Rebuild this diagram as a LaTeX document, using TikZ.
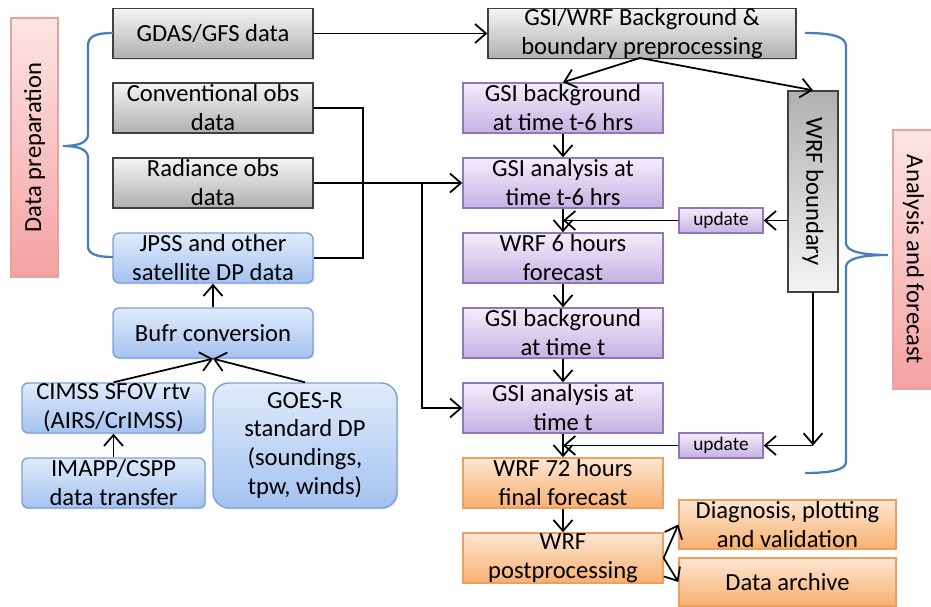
\documentclass[tikz,border=0pt]{standalone}
\usepackage{fontspec}
\setmainfont{Carlito}
\usepackage{tikz}
\usetikzlibrary{arrows.meta,shadows}

\definecolor{grayhi}{HTML}{F4F4F4}
\definecolor{graylo}{HTML}{B0B0B0}
\definecolor{grayedge}{HTML}{404040}
\definecolor{purplehi}{HTML}{F3EEFB}
\definecolor{purplelo}{HTML}{C5B1E3}
\definecolor{purpleedge}{HTML}{8E78B8}
\definecolor{orangehi}{HTML}{FDE6D2}
\definecolor{orangelo}{HTML}{F8B070}
\definecolor{orangeedge}{HTML}{EC9F60}
\definecolor{bluehi}{HTML}{E0EBFB}
\definecolor{bluelo}{HTML}{A4C2F0}
\definecolor{blueedge}{HTML}{7EA2D6}
\definecolor{pinkhi}{HTML}{FDE4E4}
\definecolor{pinklo}{HTML}{F4A2A2}
\definecolor{pinkedge}{HTML}{E8A2A2}
\definecolor{bracecol}{HTML}{4A7EBB}

\tikzset{
  box/.style={line width=0.8pt, align=center, inner sep=0pt, text=black,
    minimum width=4cm, minimum height=1cm, font=\fontsize{14}{16.5}\selectfont,
    drop shadow={opacity=0.25, shadow xshift=0.8pt, shadow yshift=-0.8pt}},
  graybox/.style={box, draw=grayedge, top color=grayhi, bottom color=graylo},
  purplebox/.style={box, draw=purpleedge, top color=purplehi, bottom color=purplelo},
  orangebox/.style={box, draw=orangeedge, top color=orangehi, bottom color=orangelo},
  bluebox/.style={box, draw=blueedge, top color=bluehi, bottom color=bluelo, rounded corners=3.5pt},
  sidebox/.style={box, draw=pinkedge, top color=pinkhi, bottom color=pinklo},
  updbox/.style={purplebox, minimum width=1.68cm, minimum height=0.5cm, font=\fontsize{11}{12}\selectfont},
  arr/.style={-{Straight Barb[length=2.2mm,width=3.8mm]}, line width=1pt},
  plain/.style={line width=1pt},
  brace/.style={draw=bracecol, line width=1.3pt}
}

\begin{document}
\begin{tikzpicture}[x=0.02cm, y=-0.02cm]
\useasboundingbox (0,0) rectangle (931,607);

% data preparation side
\node[sidebox, rotate=90, minimum width=5.18cm, minimum height=0.94cm] (prep) at (34.5,147.5) {Data preparation};
\node[graybox] (gdas) at (213,33.5) {GDAS/GFS data};
\node[graybox] (conv) at (213,108) {Conventional obs\\data};
\node[graybox] (rad) at (213,183) {Radiance obs\\data};
\node[bluebox] (jpss) at (213,258) {JPSS and other\\satellite DP data};
\node[bluebox] (bufr) at (213,333) {Bufr conversion};
\node[bluebox, minimum width=3.66cm] (cimss) at (113.5,408) {CIMSS SFOV rtv\\(AIRS/CrIMSS)};
\node[bluebox, minimum width=3.66cm] (imapp) at (113.5,483) {IMAPP/CSPP\\data transfer};
\node[bluebox, minimum width=3.68cm, minimum height=2.5cm, rounded corners=9pt] (goes) at (305,445.5) {GOES-R\\standard DP\\(soundings,\\tpw, winds)};

% analysis and forecast side
\node[graybox, minimum width=6.16cm] (bg) at (642,33.5) {GSI/WRF Background \&\\boundary preprocessing};
\node[purplebox] (gsibg6) at (563,108) {GSI background\\at time t-6 hrs};
\node[purplebox] (gsian6) at (563,183) {GSI analysis at\\time t-6 hrs};
\node[purplebox] (wrf6) at (563,258) {WRF 6 hours\\forecast};
\node[purplebox] (gsibgt) at (563,333) {GSI background\\at time t};
\node[purplebox] (gsiant) at (563,408) {GSI analysis at\\time t};
\node[orangebox] (wrf72) at (563,483) {WRF 72 hours\\final forecast};
\node[orangebox] (post) at (563,558) {WRF\\postprocessing};
\node[orangebox, minimum width=4.34cm, minimum height=0.98cm] (diag) at (787.5,524.5) {Diagnosis, plotting\\and validation};
\node[orangebox, minimum width=4.34cm, minimum height=0.96cm] (arch) at (787.5,582) {Data archive};
\node[graybox, rotate=-90, top color=graylo, bottom color=grayhi, minimum width=4.02cm] (bdy) at (813,191.5) {WRF boundary};
\node[updbox] (upd1) at (721,220.5) {update};
\node[updbox] (upd2) at (721,445.5) {update};
\node[sidebox, rotate=-90, minimum width=5.18cm, minimum height=0.82cm] (anal) at (913.5,259.5) {Analysis and forecast};

% braces
\draw[brace] (113,33) .. controls (96,33) and (88,36) .. (88,46) -- (88,134) .. controls (88,142) and (80,146) .. (63,146)
  .. controls (80,146) and (88,150) .. (88,158) -- (88,246) .. controls (88,254) and (96,257) .. (113,257);
\draw[brace] (805,33) .. controls (830,33) and (846,36) .. (846,46) -- (846,243) .. controls (846,251) and (860,255) .. (888,255)
  .. controls (860,255) and (846,259) .. (846,267) -- (846,462) .. controls (846,470) and (830,473) .. (805,473);

% connectors left
\draw[arr] (gdas) -- (bg);
\draw[plain] (conv.east) -- ++(49,0) |- (jpss.east);
\draw[arr] (rad) -- (gsian6);
\coordinate (split) at (422,183);
\draw[arr] (split) |- (gsiant.west);
\draw[arr] (bufr) -- (jpss);
\draw[arr] (cimss.north) -- (bufr.south);
\draw[arr] (goes.north) -- (bufr.south);
\draw[arr] (imapp) -- (cimss);

% connectors right
\coordinate (bgout) at (640,58);
\draw[arr] (bgout) -- (gsibg6.north);
\draw[arr] (bgout) -- (bdy.west);
\draw[arr] (gsibg6) -- (gsian6);
\draw[arr] (gsian6) -- (wrf6);
\draw[arr] (wrf6) -- (gsibgt);
\draw[arr] (gsibgt) -- (gsiant);
\draw[arr] (gsiant) -- (wrf72);
\draw[arr] (wrf72) -- (post);
\draw[arr] (bdy.south |- upd1.east) -- (upd1.east);
\draw[arr] (upd1.west) -- (upd1.west -| gsian6.south);
\coordinate (bend) at (bdy.east |- upd2.east);
\draw[arr] (bdy.east) -- (bend);
\draw[arr] (bend) -- (upd2.east);
\draw[arr] (upd2.west) -- (upd2.west -| gsiant.south);
\draw[arr] (post.east) -- (diag.west);
\draw[arr] (post.east) -- (arch.west);
\end{tikzpicture}
\end{document}
